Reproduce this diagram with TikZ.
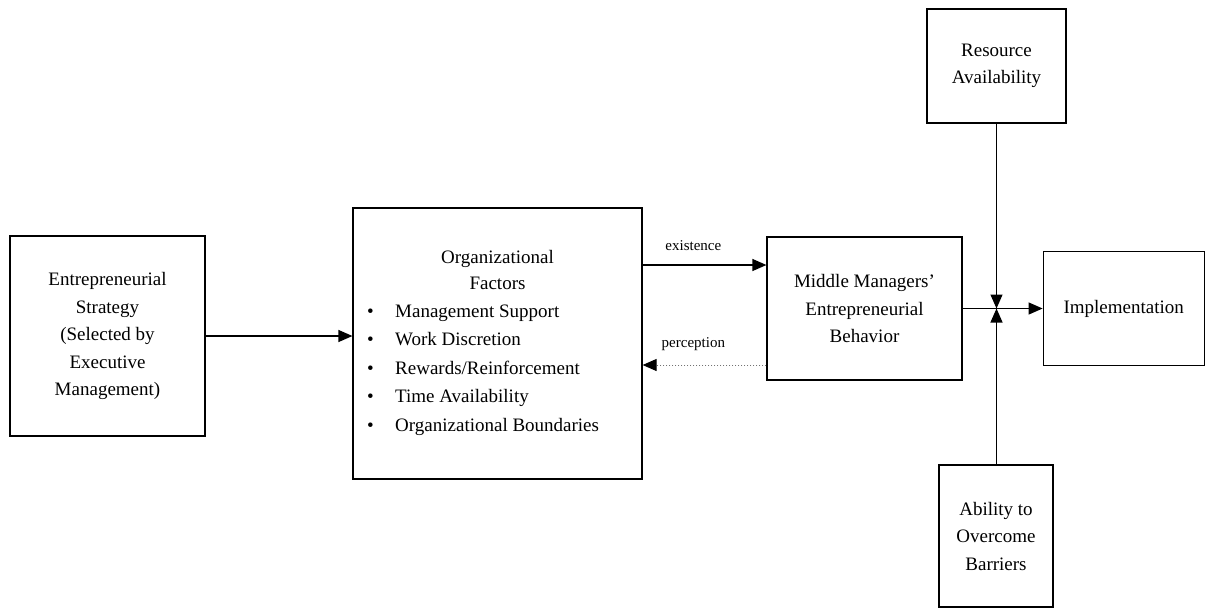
\documentclass[tikz,border=0pt]{standalone}
\usepackage{fontspec}
\setmainfont{Liberation Serif}
\usetikzlibrary{positioning, arrows.meta}
\tikzset{block/.style = {rectangle, draw=black, line width=1.2pt, align=center,
  font=\fontsize{19}{27.5}\selectfont, inner sep=0pt}}
\tikzset{blocktext/.style = {align=center, font=\fontsize{19}{26}\selectfont, inner sep=0pt}}
\tikzset{flow/.style = {-{Triangle[length=14pt, width=12pt]}, line width=1.2pt}}
\tikzset{feedback/.style = {-{Triangle[length=14pt, width=12pt, color=black, fill=black]},
  draw=black!55, dotted, line width=1pt}}
\tikzset{edgelabel/.style = {font=\fontsize{15}{18}\selectfont}}
\newcommand{\factoritem}[1]{\makebox[28pt][l]{\textbullet}#1}

\begin{document}
\begin{tikzpicture}[x=1pt, y=-1pt, node distance=80pt]
      \useasboundingbox (0,0) rectangle (1206,608);

      \node[block, minimum width=195pt, minimum height=200pt] (strategy) at (107.5,336)
        {Entrepreneurial\\Strategy\\(Selected by\\Executive\\Management)};

      \node[block, minimum width=289pt, minimum height=271pt] (factors) at (497.5,343.5) {};
      \node[blocktext] (factorstitle) at (497.5,270) {Organizational\\Factors};
      \node[blocktext, align=left, anchor=west, font=\fontsize{19}{28.5}\selectfont]
        (factorlist) at (367,370)
        {\factoritem{Management Support}\\
         \factoritem{Work Discretion}\\
         \factoritem{Rewards/Reinforcement}\\
         \factoritem{Time Availability}\\
         \factoritem{Organizational Boundaries}};

      \node[block, minimum width=195pt, minimum height=143pt] (behavior) at (864.5,308.5)
        {Middle Managers'\\Entrepreneurial\\Behavior};

      \node[block, minimum width=161pt, minimum height=114pt] (implementation)
        [right=80pt of behavior] {Implementation};

      \node[block, minimum width=139pt, minimum height=114pt] (resources) at (996.5,66)
        {Resource\\Availability};

      \node[block, minimum width=114pt, minimum height=142pt] (barriers) at (996,536)
        {Ability to\\Overcome\\Barriers};

      \coordinate (junction) at (resources.south |- behavior.east);

      \draw[flow] (strategy.east) -- (strategy.east -| factors.west);
      \draw[flow] (factors.east |- 0,265) -- (behavior.west |- 0,265)
        node[edgelabel, pos=0.41, above=10pt] {existence};
      \draw[feedback] (behavior.west |- 0,365) -- (factors.east |- 0,365)
        node[edgelabel, pos=0.59, above=10pt] {perception};
      \draw[flow] (behavior.east) -- (behavior.east -| implementation.west);
      \draw[flow] (resources.south) -- (junction);
      \draw[flow] (junction |- barriers.north) -- (junction);
\end{tikzpicture}
\end{document}
